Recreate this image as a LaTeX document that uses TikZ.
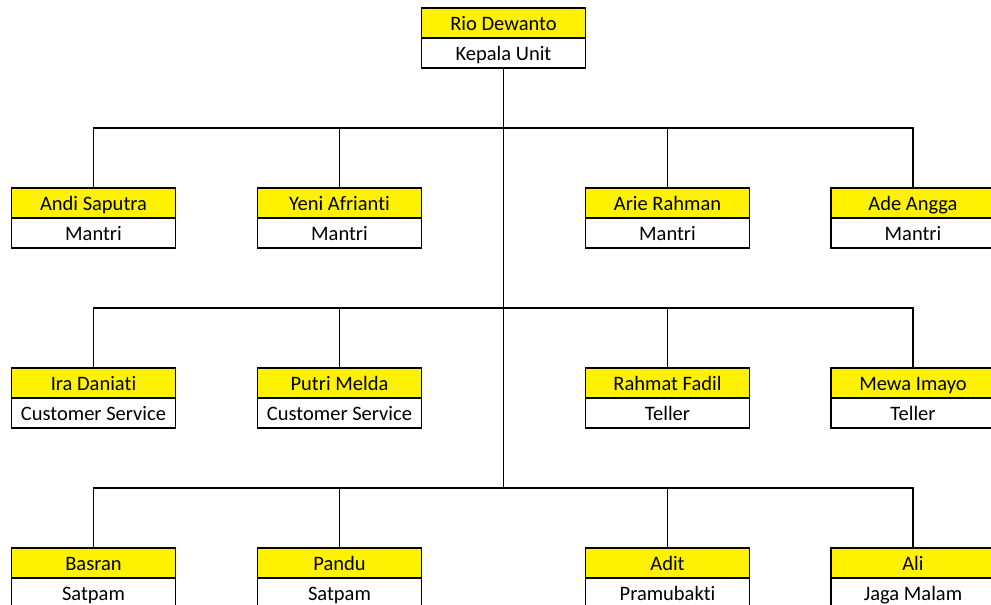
\documentclass[tikz,border=0pt]{standalone}
\usepackage{fontspec}
\setmainfont{Carlito}[Ligatures=NoCommon]
\usetikzlibrary{positioning}

\begin{document}
\begin{tikzpicture}[x=1pt,y=-1pt]
			\tikzstyle{every node} = [rectangle,draw=black,line width=1.2pt,minimum width=164pt,minimum height=30pt,inner sep=0pt,outer sep=0pt,text height=15pt,text depth=0pt,font=\fontsize{20.5}{24}\selectfont];
			\tikzstyle{nama} = [fill=yellow];
			\tikzstyle{jabatan} = [fill=white];
			\useasboundingbox (0,0) rectangle (991,605);
			% kepala unit
			\node[nama] (0) at (503.5, 23) {Rio Dewanto};
			\node[jabatan,below=0pt of 0] (0j) {Kepala Unit};
			\coordinate (h1) at (503.5, 128);
			\coordinate (h2) at (503.5, 308);
			\coordinate (h3) at (503.5, 488);
			% mantri
			\node[nama] (1) at (93.5, 203) {Andi Saputra};
			\node[jabatan,below=0pt of 1] (1j) {Mantri};
			\node[nama] (2) at (339.5, 203) {Yeni Afrianti};
			\node[jabatan,below=0pt of 2] (2j) {Mantri};
			\node[nama] (3) at (667.5, 203) {Arie Rahman};
			\node[jabatan,below=0pt of 3] (3j) {Mantri};
			\node[nama] (4) at (913, 203) {Ade Angga};
			\node[jabatan,below=0pt of 4] (4j) {Mantri};
			% cs dan teller
			\node[nama] (5) at (93.5, 383) {Ira Daniati};
			\node[jabatan,below=0pt of 5] (5j) {Customer Service};
			\node[nama] (6) at (339.5, 383) {Putri Melda};
			\node[jabatan,below=0pt of 6] (6j) {Customer Service};
			\node[nama] (7) at (667.5, 383) {Rahmat Fadil};
			\node[jabatan,below=0pt of 7] (7j) {Teller};
			\node[nama] (8) at (913, 383) {Mewa Imayo};
			\node[jabatan,below=0pt of 8] (8j) {Teller};
			% satpam dll
			\node[nama] (9) at (93.5, 563) {Basran};
			\node[jabatan,below=0pt of 9] (9j) {Satpam};
			\node[nama] (10) at (339.5, 563) {Pandu};
			\node[jabatan,below=0pt of 10] (10j) {Satpam};
			\node[nama] (11) at (667.5, 563) {Adit};
			\node[jabatan,below=0pt of 11] (11j) {Pramubakti};
			\node[nama] (12) at (913, 563) {Ali};
			\node[jabatan,below=0pt of 12] (12j) {Jaga Malam};
			% garis
			\draw[line width=1.2pt] (0j) -- (h3);
			\draw[line width=1.2pt] (h1) -| (1);
			\draw[line width=1.2pt] (h1) -| (2);
			\draw[line width=1.2pt] (h1) -| (3);
			\draw[line width=1.2pt] (h1) -| (4);
			\draw[line width=1.2pt] (h2) -| (5);
			\draw[line width=1.2pt] (h2) -| (6);
			\draw[line width=1.2pt] (h2) -| (7);
			\draw[line width=1.2pt] (h2) -| (8);
			\draw[line width=1.2pt] (h3) -| (9);
			\draw[line width=1.2pt] (h3) -| (10);
			\draw[line width=1.2pt] (h3) -| (11);
			\draw[line width=1.2pt] (h3) -| (12);
		\end{tikzpicture}
\end{document}
